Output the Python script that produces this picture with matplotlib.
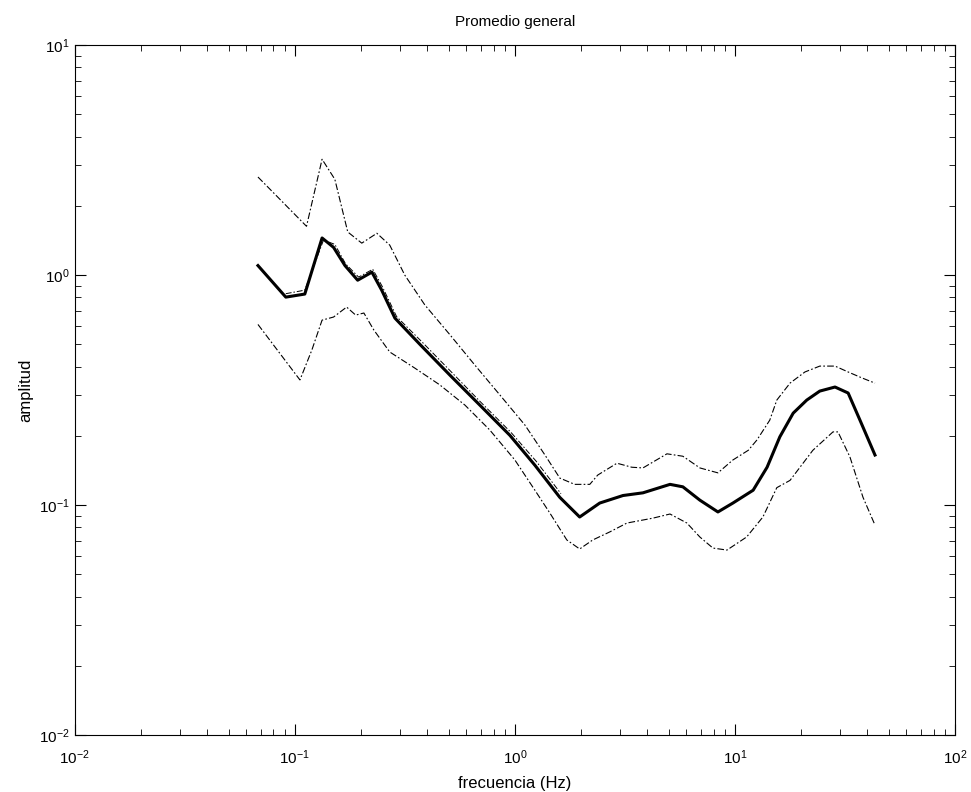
import numpy as np
import matplotlib
matplotlib.use("Agg")
import matplotlib.pyplot as plt
from matplotlib.ticker import LogLocator, NullFormatter

# frequency (Hz) and amplitude
f_upper = [0.068, 0.113, 0.133, 0.152, 0.174, 0.2015, 0.236, 0.270, 0.316, 0.390,
           0.507, 0.658, 0.855, 1.11, 1.37, 1.60, 1.87, 2.19, 2.38, 2.91,
           3.40, 3.82, 4.91, 5.80, 6.93, 8.37, 9.79, 11.5, 12.6, 14.4,
           15.5, 17.8, 20.8, 24.3, 28.5, 32.7, 37.8, 43.3]
a_upper = [2.67, 1.63, 3.19, 2.61, 1.54, 1.377, 1.52, 1.35, 1.0, 0.741,
           0.55, 0.406, 0.301, 0.223, 0.165, 0.131, 0.123, 0.123, 0.135, 0.152,
           0.146, 0.145, 0.167, 0.163, 0.145, 0.138, 0.157, 0.173, 0.192, 0.234,
           0.286, 0.339, 0.379, 0.402, 0.402, 0.379, 0.357, 0.339]

f_mean = [0.068, 0.091, 0.111, 0.133, 0.150, 0.169, 0.193, 0.224, 0.248, 0.285,
          0.370, 0.507, 0.693, 0.949, 1.233, 1.60, 1.97,
          2.43, 3.10, 3.82, 5.07, 5.80, 6.93, 8.37, 9.79, 12.1, 14.0,
          16.0, 18.4, 21.2, 24.3, 28.5, 32.7, 37.0, 43.3]
a_mean = [1.10, 0.802, 0.827, 1.45, 1.32, 1.10, 0.95, 1.03, 0.861, 0.650,
          0.50, 0.367, 0.272, 0.201, 0.149, 0.108, 0.0887,
          0.102, 0.110, 0.113, 0.123, 0.120, 0.105, 0.0933, 0.102, 0.116, 0.146,
          0.198, 0.251, 0.286, 0.313, 0.326, 0.307, 0.234, 0.165]

# thin line running next to the mean
f_mean2 = [0.091, 0.111, 0.135, 0.152, 0.170, 0.195, 0.226, 0.25, 0.29, 0.38,
           0.52, 0.70, 0.96, 1.25, 1.62]
a_mean2 = [0.83, 0.86, 1.42, 1.36, 1.12, 0.98, 1.06, 0.89, 0.66, 0.51,
           0.375, 0.28, 0.207, 0.155, 0.112]

f_lower = [0.068, 0.1055, 0.1195, 0.133, 0.150, 0.172, 0.189, 0.206, 0.2286, 0.270,
           0.351, 0.456, 0.593, 0.769, 1.0, 1.233, 1.442, 1.722,
           1.97, 2.26, 2.70, 3.23, 4.24, 5.07, 6.05, 6.93, 7.94, 9.20,
           11.3, 13.4, 15.5, 17.8, 22.6, 27.9, 29.4, 33.3, 38.2, 43.3]
a_lower = [0.61, 0.35, 0.472, 0.637, 0.657, 0.726, 0.67, 0.684, 0.577, 0.463,
           0.394, 0.333, 0.272, 0.212, 0.157, 0.116, 0.0923, 0.0705,
           0.0644, 0.0705, 0.0764, 0.0835, 0.0877, 0.0914, 0.0835, 0.0726, 0.0650, 0.0637,
           0.0726, 0.0887, 0.119, 0.128, 0.173, 0.208, 0.208, 0.162, 0.108, 0.0818]

plt.rcParams['font.family'] = ['Liberation Sans', 'DejaVu Sans']

fig = plt.figure(figsize=(9.71, 7.92), dpi=100)
ax = fig.add_axes([0.077, 0.072, 0.9065, 0.871])

dashdot = (0, (6, 2, 1.5, 2))
ax.loglog(f_upper, a_upper, color='black', lw=0.8, linestyle=dashdot)
ax.loglog(f_lower, a_lower, color='black', lw=0.8, linestyle=dashdot)
ax.loglog(f_mean2, a_mean2, color='black', lw=0.7, linestyle=dashdot)
ax.loglog(f_mean, a_mean, color='black', lw=2.2)

ax.set_xlim(1e-2, 1e2)
ax.set_ylim(1e-2, 1e1)
ax.xaxis.set_major_locator(LogLocator(base=10, numticks=10))
ax.yaxis.set_major_locator(LogLocator(base=10, numticks=10))
ax.xaxis.set_minor_locator(LogLocator(base=10, subs=np.arange(2, 10), numticks=20))
ax.yaxis.set_minor_locator(LogLocator(base=10, subs=np.arange(2, 10), numticks=20))
ax.xaxis.set_minor_formatter(NullFormatter())
ax.yaxis.set_minor_formatter(NullFormatter())
ax.tick_params(which='both', direction='in', top=True, right=True, labelsize=11)
ax.tick_params(which='major', length=8, width=0.8)
ax.tick_params(which='minor', length=4, width=0.6)
ax.tick_params(axis='x', which='major', pad=10)
for s in ax.spines.values():
    s.set_linewidth(0.8)

ax.set_title("Promedio general", fontsize=11, pad=14)
ax.set_xlabel("frecuencia (Hz)", fontsize=12, labelpad=6)
ax.set_ylabel("amplitud", fontsize=12, labelpad=4)

fig.savefig("out.png", dpi=100)
